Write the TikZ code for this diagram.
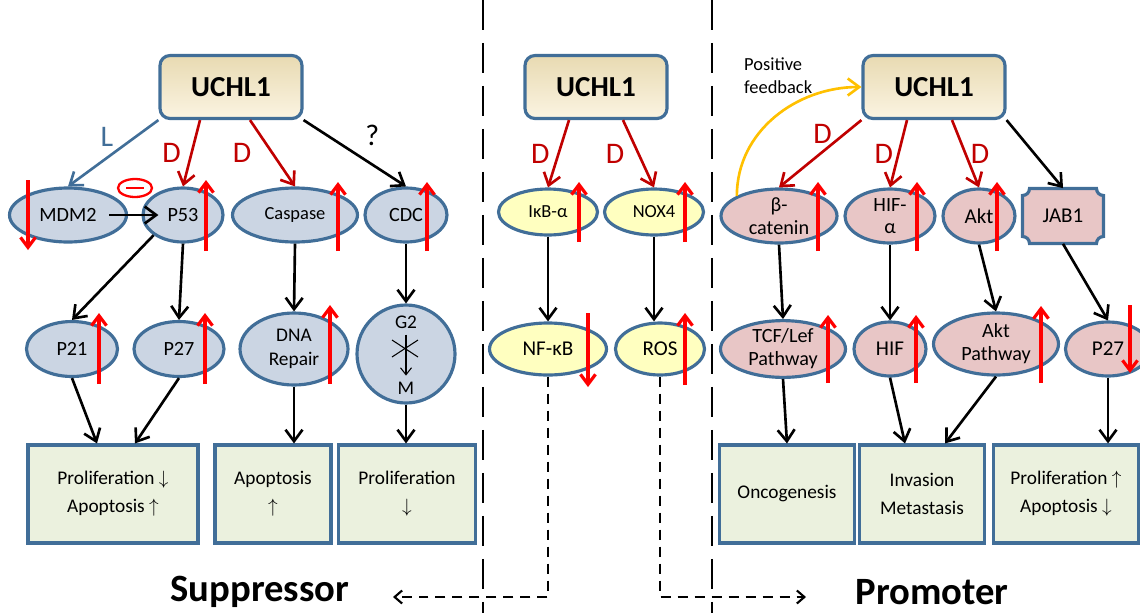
\documentclass[tikz,border=0pt]{standalone}
\usepackage{fontspec}
\setmainfont{Carlito}
\usepackage{amssymb}
\usepackage{amsmath}
\usetikzlibrary{shapes,calc,arrows.meta}

\definecolor{ellblue}{RGB}{203,213,227}
\definecolor{ellyellow}{RGB}{255,255,192}
\definecolor{ellpink}{RGB}{232,198,198}
\definecolor{boxgreen}{RGB}{235,241,222}
\definecolor{edgeblue}{RGB}{65,110,152}
\definecolor{darkred}{RGB}{192,0,0}
\definecolor{fborange}{RGB}{255,192,0}
\definecolor{uchltop}{RGB}{232,218,178}
\definecolor{uchlbot}{RGB}{251,244,226}

\tikzset{
  uchl/.style={rectangle, rounded corners=0.2cm, draw=edgeblue, line width=1.8pt,
    top color=uchltop, bottom color=uchlbot, minimum width=2.84cm, minimum height=1.26cm,
    font=\fontsize{16.5}{18}\selectfont\bfseries},
  ell/.style={ellipse, draw=edgeblue, line width=1.8pt, inner sep=0pt, align=center,
    font=\fontsize{11.5}{14}\selectfont},
  lblue/.style={ell, fill=ellblue},
  lyellow/.style={ell, fill=ellyellow},
  lpink/.style={ell, fill=ellpink},
  outcome/.style={rectangle, draw=edgeblue, line width=1.8pt, fill=boxgreen,
    minimum height=1.96cm, align=center, font=\fontsize{11}{16}\selectfont},
  plaque/.style={draw=edgeblue, line width=1.8pt, fill=ellpink},
  blk/.style={black, line width=1.5pt, -{Straight Barb[length=2.3mm,width=3.4mm]}},
  redarr/.style={darkred, line width=1.5pt, -{Straight Barb[length=2.3mm,width=3.4mm]}},
  bluearr/.style={edgeblue, line width=1.5pt, -{Straight Barb[length=2.3mm,width=3.4mm]}},
  level/.style={red, line width=1.8pt, -{Straight Barb[length=2mm,width=3mm]}},
  sep/.style={black, line width=1.6pt, dash pattern=on 0.6cm off 0.26cm},
  dconn/.style={black, line width=1.2pt, dash pattern=on 0.2cm off 0.14cm,
    -{Straight Barb[length=1.5mm,width=2.6mm]}},
  tag/.style={font=\fontsize{17}{19}\selectfont},
  side/.style={font=\fontsize{22}{24}\selectfont\bfseries}
}

\begin{document}
\begin{tikzpicture}[x=0.02cm, y=-0.02cm]
  \useasboundingbox (0,0) rectangle (1140,613);

  % separators
  \draw[sep] (483,0) -- (483,613);
  \draw[sep] (712,0) -- (712,613);

  % ---- suppressor side
  \node[uchl] (uL) at (231,87) {UCHL1};
  \node[lblue, minimum width=2.34cm, minimum height=1.08cm] (mdm2) at (68,215) {MDM2};
  \node[lblue, minimum width=1.6cm, minimum height=1.08cm] (p53) at (183,215) {P53};
  \node[lblue, minimum width=2.5cm, minimum height=1.08cm, font=\fontsize{10.5}{12}\selectfont] (casp) at (295,215) {Caspase};
  \node[lblue, minimum width=1.64cm, minimum height=1.08cm] (cdc) at (406,215) {CDC};

  \node[lblue, minimum width=1.82cm, minimum height=1.1cm] (p21) at (72,349) {P21};
  \node[lblue, minimum width=1.8cm, minimum height=1.1cm] (p27L) at (179,349) {P27};
  \node[lblue, minimum width=2.16cm, minimum height=1.44cm, font=\fontsize{11}{14}\selectfont] (dna) at (294,349) {DNA\\Repair};
  \node[lblue, circle, minimum size=1.96cm] (g2m) at (406,354) {};
  \node[font=\fontsize{11}{12}\selectfont] (g2) at (406,322) {G2};
  \node[font=\fontsize{11}{12}\selectfont] (mm) at (406,388) {M};
  \draw[black, line width=0.6pt, -{Straight Barb[length=1.4mm,width=2.2mm]}] (g2) -- (mm);
  \draw[black, line width=0.6pt] (392,340) -- (418,357) (392,357) -- (418,340);

  \node[outcome, minimum width=3.4cm] (b1) at (113,494) {Proliferation $\downarrow$\\Apoptosis $\uparrow$};
  \node[outcome, minimum width=2.32cm] (b2) at (273,494) {Apoptosis\\$\uparrow$};
  \node[outcome, minimum width=2.74cm] (b3) at (407,494) {Proliferation\\$\downarrow$};

  \draw[bluearr] (uL.south west) -- (mdm2.north) node[midway, above left, tag, text=edgeblue, xshift=4pt] {L};
  \draw[redarr] ($(uL.south)+(-31,0)$) -- (p53.north) node[midway, left, tag, text=darkred, xshift=-2pt] {D};
  \draw[redarr] ($(uL.south)+(19,0)$) -- (casp.north) node[midway, left, tag, text=darkred, xshift=-8pt] {D};
  \draw[blk] (uL.south east) -- (cdc.north) node[midway, above right, tag, xshift=2pt] {?};
  \draw[blk] ($(mdm2.east)+(-19,0)$) -- ($(p53.west)+(17,0)$);
  \draw[red, line width=1.3pt] (135,188) ellipse [x radius=17, y radius=9];
  \draw[red, line width=1.5pt] (126,188) -- (144,188);

  \draw[blk] (p53.south west) -- (p21.north);
  \draw[blk] (p53.south) -- (p27L.north);
  \draw[blk] (casp.south) -- (dna.north);
  \draw[blk] (cdc.south) -- (g2m.north);
  \draw[blk] (p21.south) -- ($(b1.north)+(-16,0)$);
  \draw[blk] (p27L.south) -- ($(b1.north)+(22,0)$);
  \draw[blk] (dna.south) -- (dna.south |- b2.north);
  \draw[blk] (g2m.south) -- (g2m.south |- b3.north);

  % ---- middle
  \node[uchl] (uM) at (596,87) {UCHL1};
  \node[lyellow, minimum width=1.98cm, minimum height=0.92cm, font=\fontsize{10.5}{12}\selectfont] (ikb) at (548,212) {IκB-α};
  \node[lyellow, minimum width=1.98cm, minimum height=0.92cm, font=\fontsize{10.5}{12}\selectfont] (nox) at (654,212) {NOX4};
  \node[lyellow, minimum width=2.34cm, minimum height=1.04cm, font=\fontsize{12}{14}\selectfont] (nfkb) at (548,349) {NF-κB};
  \node[lyellow, minimum width=1.78cm, minimum height=1.04cm, font=\fontsize{12}{14}\selectfont] (ros) at (660,349) {ROS};

  \draw[redarr] ($(uM.south)+(-27,0)$) -- (ikb.north) node[midway, left, tag, text=darkred, xshift=-1pt] {D};
  \draw[redarr] ($(uM.south)+(27,0)$) -- (nox.north) node[midway, left, tag, text=darkred, xshift=-4pt] {D};
  \draw[blk] (ikb.south) -- (nfkb.north);
  \draw[blk] (nox.south) -- (nox.south |- ros.north);

  % ---- promoter side
  \node[uchl] (uR) at (934,87) {UCHL1};
  \node[lpink, minimum width=2.32cm, minimum height=1.08cm, font=\fontsize{11.5}{13}\selectfont] (bcat) at (779,216) {β-\\catenin};
  \node[lpink, minimum width=1.8cm, minimum height=1.08cm, font=\fontsize{11.5}{13}\selectfont] (hifa) at (890,216) {HIF-\\α};
  \node[lpink, minimum width=1.44cm, minimum height=1.08cm, font=\fontsize{12}{14}\selectfont] (akt) at (979,216) {Akt};
  \draw[plaque, shift={(1063,216)}] (-40.5,-20.5) .. controls (-36.6,-20.5) and (-33.5,-23.6) .. (-33.5,-27.5)
    -- (33.5,-27.5) .. controls (33.5,-23.6) and (36.6,-20.5) .. (40.5,-20.5)
    -- (40.5,20.5) .. controls (36.6,20.5) and (33.5,23.6) .. (33.5,27.5)
    -- (-33.5,27.5) .. controls (-33.5,23.6) and (-36.6,20.5) .. (-40.5,20.5) -- cycle;
  \node[minimum width=1.62cm, minimum height=1.1cm, font=\fontsize{12}{14}\selectfont] (jab) at (1063,216) {JAB1};

  \node[lpink, minimum width=2.5cm, minimum height=1.08cm, font=\fontsize{11.5}{13}\selectfont] (tcf) at (783,349) {TCF/Lef\\Pathway};
  \node[lpink, minimum width=1.44cm, minimum height=1.08cm, font=\fontsize{12}{14}\selectfont] (hif) at (890,349) {HIF};
  \node[lpink, minimum width=2.5cm, minimum height=1.24cm, font=\fontsize{11.5}{13}\selectfont] (aktp) at (996,344) {Akt\\Pathway};
  \node[lpink, minimum width=1.7cm, minimum height=1.08cm, font=\fontsize{12}{14}\selectfont] (p27R) at (1108,349) {P27};

  \node[outcome, minimum width=2.7cm] (r1) at (787,494) {Oncogenesis};
  \node[outcome, minimum width=2.5cm] (r2) at (922,494) {Invasion\\Metastasis};
  \node[outcome, minimum width=2.9cm] (r3) at (1066,494) {Proliferation $\uparrow$\\Apoptosis $\downarrow$};

  \node[align=left, anchor=west, font=\fontsize{10.5}{13}\selectfont] (fbtxt) at (738,76) {Positive\\feedback};
  \draw[fborange, line width=1.5pt, -{Straight Barb[length=2.3mm,width=3.4mm]}] (bcat.north west) to[out=90, in=180] (uR.west);

  \draw[redarr] (uR.south west) -- (bcat.north) node[midway, above right, tag, text=darkred, xshift=-8pt, yshift=2pt] {D};
  \draw[redarr] ($(uR.south)+(-27,0)$) -- (hifa.north) node[midway, left, tag, text=darkred, xshift=1pt] {D};
  \draw[redarr] ($(uR.south)+(18,0)$) -- (akt.north) node[midway, right, tag, text=darkred, xshift=-1pt] {D};
  \draw[blk] (uR.south east) -- (jab.north);
  \draw[blk] (bcat.south) -- (tcf.north);
  \draw[blk] (hifa.south) -- (hif.north);
  \draw[blk] (akt.south) -- (aktp.north);
  \draw[blk] (jab.south) -- (p27R.north);
  \draw[blk] (tcf.south) -- (r1.north);
  \draw[blk] (hif.south) -- ($(r2.north)+(-17,0)$);
  \draw[blk] (aktp.south) -- ($(r2.north)+(23,0)$);
  \draw[blk] (p27R.south) -- (p27R.south |- r3.north);

  % level markers
  \draw[level] (28,180) -- (28,250);
  \draw[level] (206,251) -- (206,180);
  \draw[level] (338,251) -- (338,182);
  \draw[level] (427,251) -- (427,182);
  \draw[level] (99,384) -- (99,313);
  \draw[level] (205,384) -- (205,313);
  \draw[level] (330,384) -- (330,305);
  \draw[level] (579,242) -- (579,182);
  \draw[level] (685,242) -- (685,182);
  \draw[level] (588,313) -- (588,387);
  \draw[level] (685,385) -- (685,313);
  \draw[level] (818,251) -- (818,182);
  \draw[level] (917,251) -- (917,182);
  \draw[level] (997,251) -- (997,182);
  \draw[level] (828,383) -- (828,315);
  \draw[level] (916,383) -- (916,315);
  \draw[level] (1041,383) -- (1041,306);
  \draw[level] (1130,305) -- (1130,373);

  % bottom
  \node[side] (supp) at (260,592) {Suppressor};
  \node[side] (prom) at (932,592) {Promoter};
  \coordinate (suppEnd) at (393,597);
  \coordinate (promEnd) at (806,597);
  \draw[dconn] (nfkb.south) |- (suppEnd);
  \draw[dconn] (ros.south) |- (promEnd);
\end{tikzpicture}
\end{document}
